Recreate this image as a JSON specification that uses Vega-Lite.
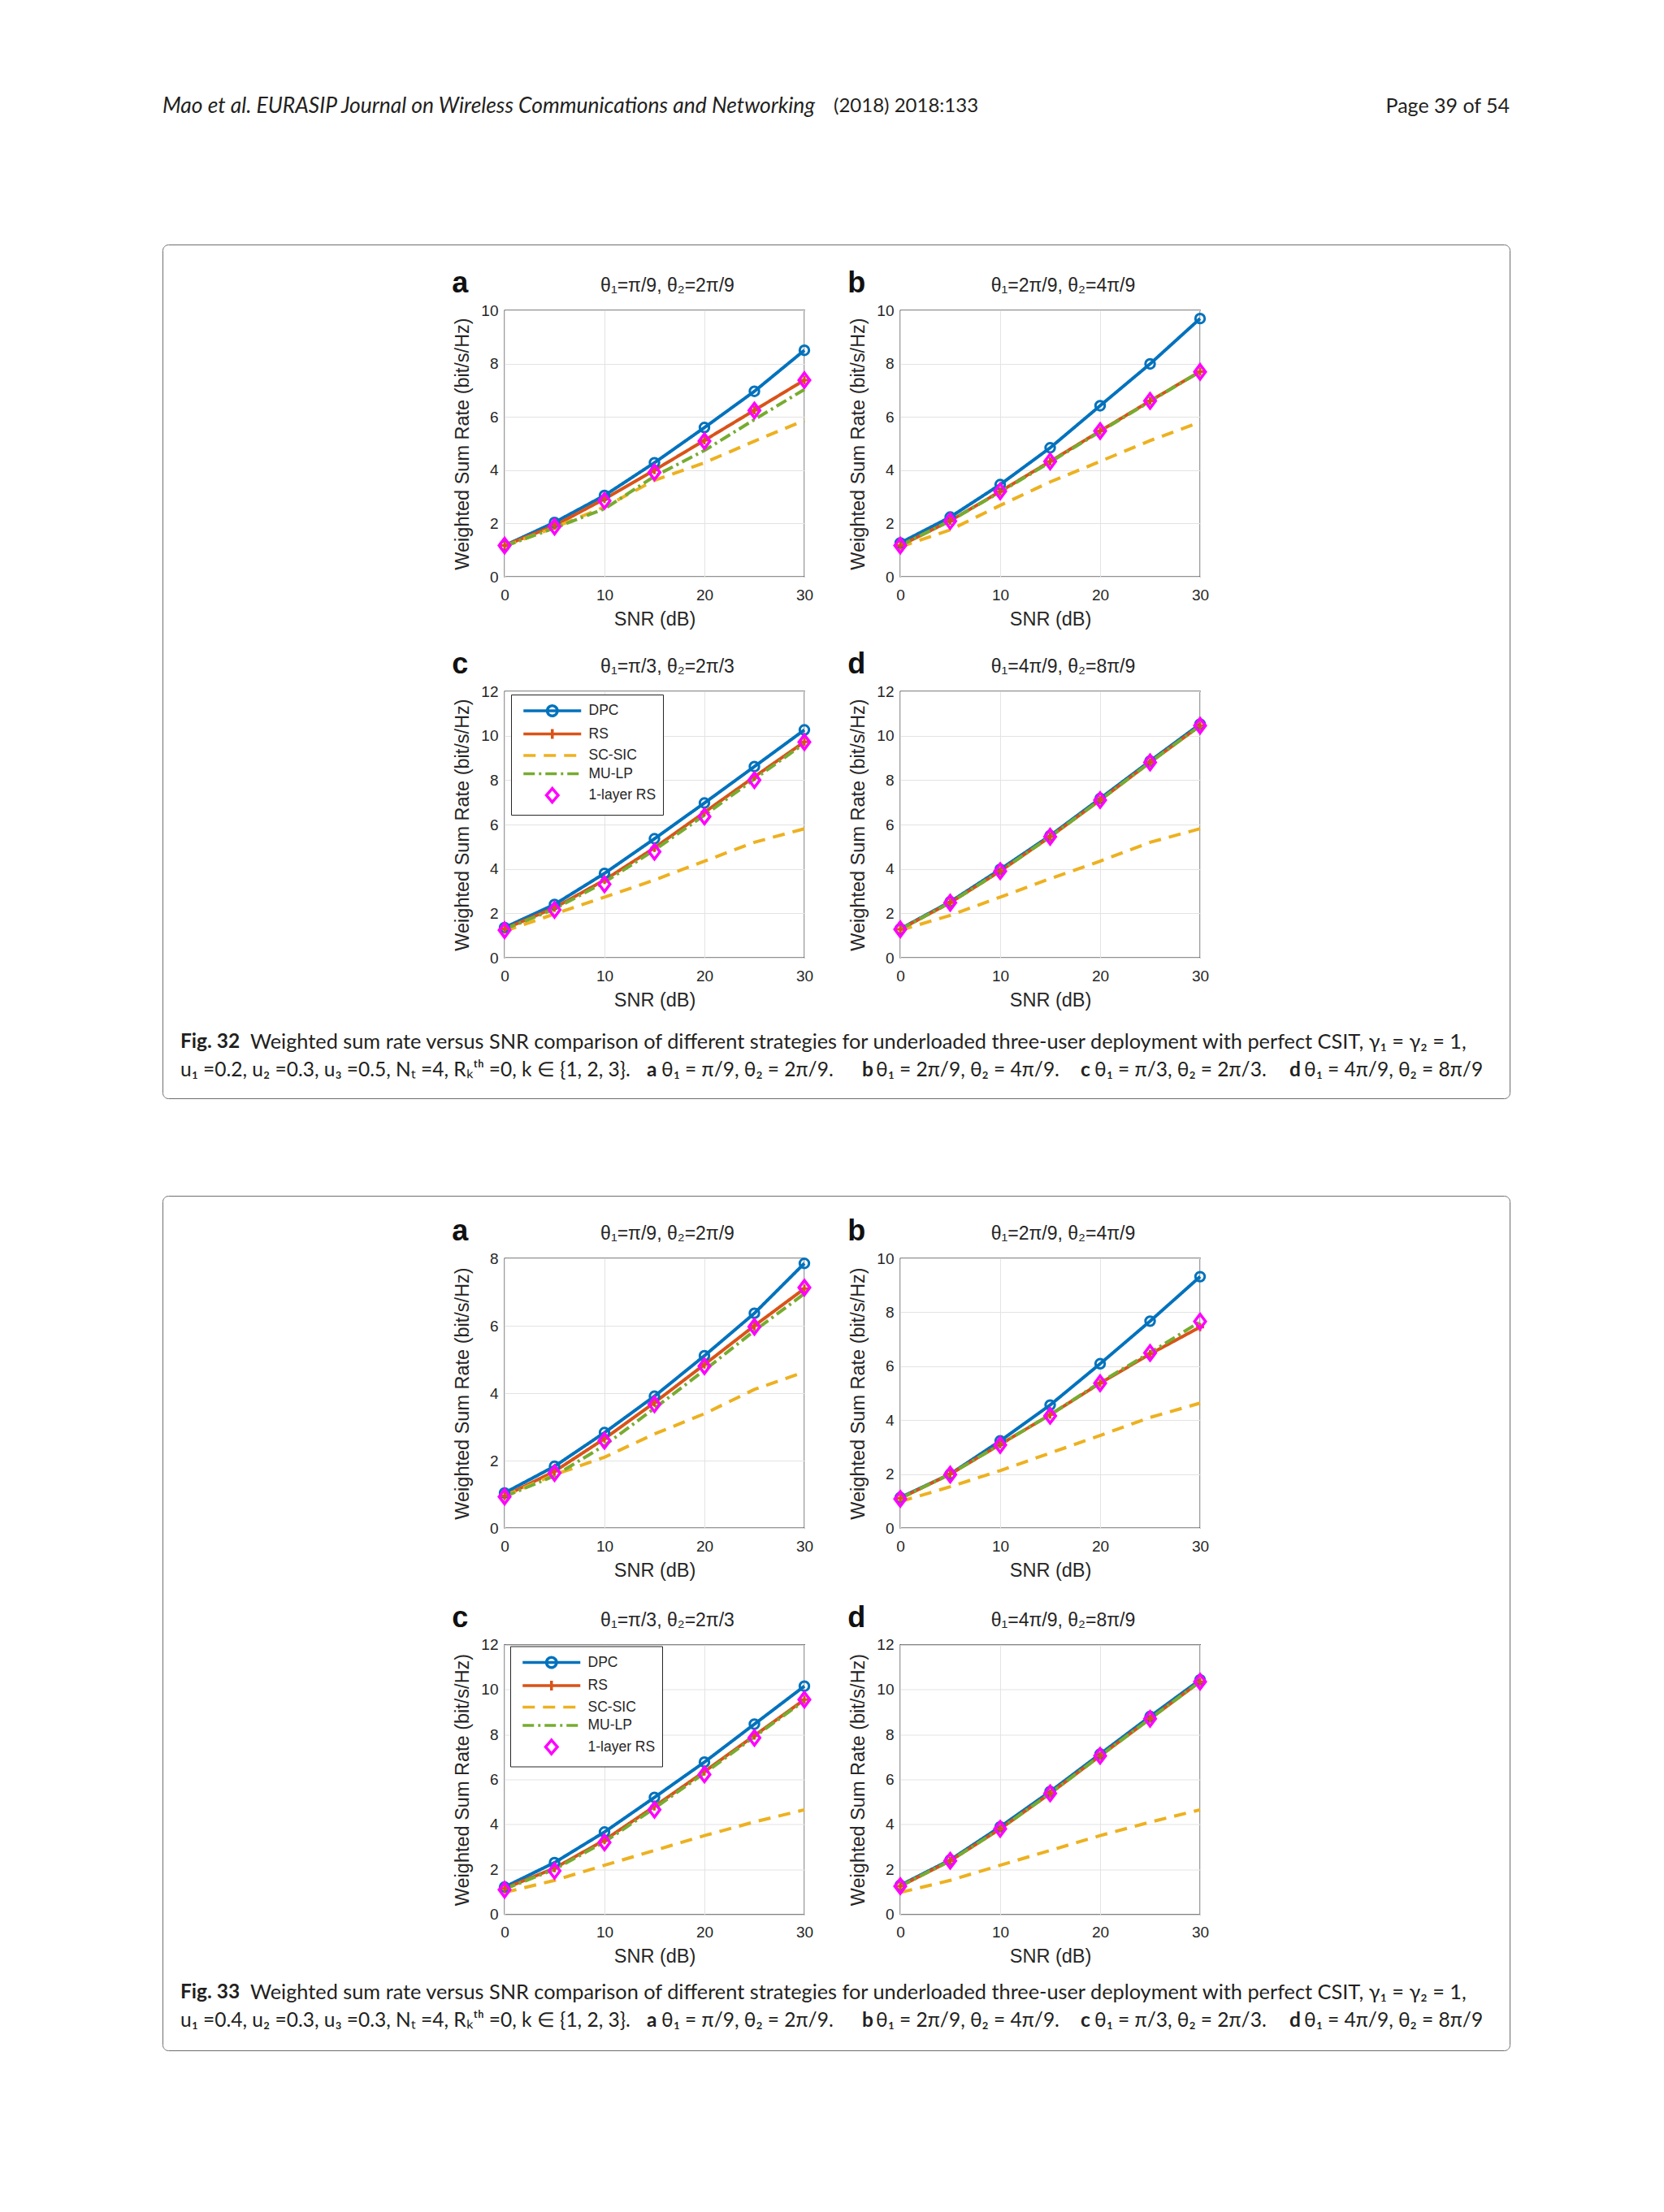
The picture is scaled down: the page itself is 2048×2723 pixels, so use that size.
{
  "$schema": "https://vega.github.io/schema/vega-lite/v6.json",
  "background": "white",
  "padding": {"left": 198, "top": 110, "right": 0, "bottom": 0},
  "config": {
    "font": "Liberation Sans",
    "view": {"stroke": "#262626", "strokeWidth": 1.3},
    "axis": {
      "labelFont": "Liberation Sans", "labelFontSize": 19, "labelColor": "#262626", "labelAngle": 0,
      "titleFont": "Liberation Sans", "titleFontSize": 23.5, "titleFontWeight": "normal", "titleColor": "#262626",
      "domain": false, "ticks": false, "gridColor": "#e3e3e3", "gridWidth": 1, "gridOpacity": 1
    },
    "axisX": {"tickCount": 3, "labelPadding": 13, "titlePadding": 8, "labelFlush": false, "labelAngle": 0},
    "axisY": {"tickCount": 5, "labelPadding": 8, "titlePadding": 10, "labelAngle": 0, "labelAlign": "right", "labelBaseline": "middle", "minExtent": 30, "maxExtent": 30},
    "title": {"font": "Liberation Sans", "color": "#262626"}
  },
  "datasets": {
    "header": [
      {"seg": 1, "label": "Mao et al. EURASIP Journal on Wireless Communications and Networking"},
      {"seg": 2, "label": "(2018) 2018:133"},
      {"seg": 3, "label": "Page 39 of 54"}
    ],
    "captions": [
      {"figure": 32, "line": 1, "seg": 1, "kind": "figure", "label": "Fig. 32"},
      {"figure": 32, "line": 1, "seg": 2, "kind": "text", "label": "Weighted sum rate versus SNR comparison of different strategies for underloaded three-user deployment with perfect CSIT, γ₁ = γ₂ = 1,"},
      {"figure": 32, "line": 2, "seg": 1, "kind": "text", "label": "u₁ =0.2, u₂ =0.3, u₃ =0.5, Nₜ =4, Rₖᵗʰ =0, k ∈ {1, 2, 3}."},
      {"figure": 32, "line": 2, "seg": 3, "kind": "panel", "label": "a"},
      {"figure": 32, "line": 2, "seg": 4, "kind": "text", "label": "θ₁ = π/9, θ₂ = 2π/9."},
      {"figure": 32, "line": 2, "seg": 5, "kind": "panel", "label": "b"},
      {"figure": 32, "line": 2, "seg": 6, "kind": "text", "label": "θ₁ = 2π/9, θ₂ = 4π/9."},
      {"figure": 32, "line": 2, "seg": 7, "kind": "panel", "label": "c"},
      {"figure": 32, "line": 2, "seg": 8, "kind": "text", "label": "θ₁ = π/3, θ₂ = 2π/3."},
      {"figure": 32, "line": 2, "seg": 9, "kind": "panel", "label": "d"},
      {"figure": 32, "line": 2, "seg": 10, "kind": "text", "label": "θ₁ = 4π/9, θ₂ = 8π/9"},
      {"figure": 33, "line": 1, "seg": 1, "kind": "figure", "label": "Fig. 33"},
      {"figure": 33, "line": 1, "seg": 2, "kind": "text", "label": "Weighted sum rate versus SNR comparison of different strategies for underloaded three-user deployment with perfect CSIT, γ₁ = γ₂ = 1,"},
      {"figure": 33, "line": 2, "seg": 1, "kind": "text", "label": "u₁ =0.4, u₂ =0.3, u₃ =0.3, Nₜ =4, Rₖᵗʰ =0, k ∈ {1, 2, 3}."},
      {"figure": 33, "line": 2, "seg": 3, "kind": "panel", "label": "a"},
      {"figure": 33, "line": 2, "seg": 4, "kind": "text", "label": "θ₁ = π/9, θ₂ = 2π/9."},
      {"figure": 33, "line": 2, "seg": 5, "kind": "panel", "label": "b"},
      {"figure": 33, "line": 2, "seg": 6, "kind": "text", "label": "θ₁ = 2π/9, θ₂ = 4π/9."},
      {"figure": 33, "line": 2, "seg": 7, "kind": "panel", "label": "c"},
      {"figure": 33, "line": 2, "seg": 8, "kind": "text", "label": "θ₁ = π/3, θ₂ = 2π/3."},
      {"figure": 33, "line": 2, "seg": 9, "kind": "panel", "label": "d"},
      {"figure": 33, "line": 2, "seg": 10, "kind": "text", "label": "θ₁ = 4π/9, θ₂ = 8π/9"}
    ],
    "rates": [
      {"figure": 32, "panel": "a", "series": "DPC", "snr": 0, "rate": 1.17},
      {"figure": 32, "panel": "a", "series": "DPC", "snr": 5, "rate": 2.04},
      {"figure": 32, "panel": "a", "series": "DPC", "snr": 10, "rate": 3.05},
      {"figure": 32, "panel": "a", "series": "DPC", "snr": 15, "rate": 4.28},
      {"figure": 32, "panel": "a", "series": "DPC", "snr": 20, "rate": 5.60},
      {"figure": 32, "panel": "a", "series": "DPC", "snr": 25, "rate": 6.96},
      {"figure": 32, "panel": "a", "series": "DPC", "snr": 30, "rate": 8.50},
      {"figure": 32, "panel": "a", "series": "RS", "snr": 0, "rate": 1.17},
      {"figure": 32, "panel": "a", "series": "RS", "snr": 5, "rate": 1.92},
      {"figure": 32, "panel": "a", "series": "RS", "snr": 10, "rate": 2.92},
      {"figure": 32, "panel": "a", "series": "RS", "snr": 15, "rate": 4.00},
      {"figure": 32, "panel": "a", "series": "RS", "snr": 20, "rate": 5.12},
      {"figure": 32, "panel": "a", "series": "RS", "snr": 25, "rate": 6.25},
      {"figure": 32, "panel": "a", "series": "RS", "snr": 30, "rate": 7.38},
      {"figure": 32, "panel": "a", "series": "SC-SIC", "snr": 0, "rate": 1.15},
      {"figure": 32, "panel": "a", "series": "SC-SIC", "snr": 5, "rate": 1.85},
      {"figure": 32, "panel": "a", "series": "SC-SIC", "snr": 10, "rate": 2.62},
      {"figure": 32, "panel": "a", "series": "SC-SIC", "snr": 15, "rate": 3.62},
      {"figure": 32, "panel": "a", "series": "SC-SIC", "snr": 20, "rate": 4.28},
      {"figure": 32, "panel": "a", "series": "SC-SIC", "snr": 25, "rate": 5.09},
      {"figure": 32, "panel": "a", "series": "SC-SIC", "snr": 30, "rate": 5.87},
      {"figure": 32, "panel": "a", "series": "MU-LP", "snr": 0, "rate": 1.15},
      {"figure": 32, "panel": "a", "series": "MU-LP", "snr": 5, "rate": 1.83},
      {"figure": 32, "panel": "a", "series": "MU-LP", "snr": 10, "rate": 2.55},
      {"figure": 32, "panel": "a", "series": "MU-LP", "snr": 15, "rate": 3.77},
      {"figure": 32, "panel": "a", "series": "MU-LP", "snr": 20, "rate": 4.74},
      {"figure": 32, "panel": "a", "series": "MU-LP", "snr": 25, "rate": 5.90},
      {"figure": 32, "panel": "a", "series": "MU-LP", "snr": 30, "rate": 7.03},
      {"figure": 32, "panel": "a", "series": "1-layer RS", "snr": 0, "rate": 1.17},
      {"figure": 32, "panel": "a", "series": "1-layer RS", "snr": 5, "rate": 1.88},
      {"figure": 32, "panel": "a", "series": "1-layer RS", "snr": 10, "rate": 2.85},
      {"figure": 32, "panel": "a", "series": "1-layer RS", "snr": 15, "rate": 3.92},
      {"figure": 32, "panel": "a", "series": "1-layer RS", "snr": 20, "rate": 5.09},
      {"figure": 32, "panel": "a", "series": "1-layer RS", "snr": 25, "rate": 6.24},
      {"figure": 32, "panel": "a", "series": "1-layer RS", "snr": 30, "rate": 7.38},
      {"figure": 32, "panel": "b", "series": "DPC", "snr": 0, "rate": 1.27},
      {"figure": 32, "panel": "b", "series": "DPC", "snr": 5, "rate": 2.24},
      {"figure": 32, "panel": "b", "series": "DPC", "snr": 10, "rate": 3.46},
      {"figure": 32, "panel": "b", "series": "DPC", "snr": 15, "rate": 4.84},
      {"figure": 32, "panel": "b", "series": "DPC", "snr": 20, "rate": 6.42},
      {"figure": 32, "panel": "b", "series": "DPC", "snr": 25, "rate": 7.99},
      {"figure": 32, "panel": "b", "series": "DPC", "snr": 30, "rate": 9.69},
      {"figure": 32, "panel": "b", "series": "RS", "snr": 0, "rate": 1.17},
      {"figure": 32, "panel": "b", "series": "RS", "snr": 5, "rate": 2.10},
      {"figure": 32, "panel": "b", "series": "RS", "snr": 10, "rate": 3.20},
      {"figure": 32, "panel": "b", "series": "RS", "snr": 15, "rate": 4.33},
      {"figure": 32, "panel": "b", "series": "RS", "snr": 20, "rate": 5.47},
      {"figure": 32, "panel": "b", "series": "RS", "snr": 25, "rate": 6.60},
      {"figure": 32, "panel": "b", "series": "RS", "snr": 30, "rate": 7.70},
      {"figure": 32, "panel": "b", "series": "SC-SIC", "snr": 0, "rate": 1.12},
      {"figure": 32, "panel": "b", "series": "SC-SIC", "snr": 5, "rate": 1.76},
      {"figure": 32, "panel": "b", "series": "SC-SIC", "snr": 10, "rate": 2.68},
      {"figure": 32, "panel": "b", "series": "SC-SIC", "snr": 15, "rate": 3.56},
      {"figure": 32, "panel": "b", "series": "SC-SIC", "snr": 20, "rate": 4.33},
      {"figure": 32, "panel": "b", "series": "SC-SIC", "snr": 25, "rate": 5.11},
      {"figure": 32, "panel": "b", "series": "SC-SIC", "snr": 30, "rate": 5.80},
      {"figure": 32, "panel": "b", "series": "MU-LP", "snr": 0, "rate": 1.17},
      {"figure": 32, "panel": "b", "series": "MU-LP", "snr": 5, "rate": 2.10},
      {"figure": 32, "panel": "b", "series": "MU-LP", "snr": 10, "rate": 3.18},
      {"figure": 32, "panel": "b", "series": "MU-LP", "snr": 15, "rate": 4.30},
      {"figure": 32, "panel": "b", "series": "MU-LP", "snr": 20, "rate": 5.45},
      {"figure": 32, "panel": "b", "series": "MU-LP", "snr": 25, "rate": 6.58},
      {"figure": 32, "panel": "b", "series": "MU-LP", "snr": 30, "rate": 7.70},
      {"figure": 32, "panel": "b", "series": "1-layer RS", "snr": 0, "rate": 1.17},
      {"figure": 32, "panel": "b", "series": "1-layer RS", "snr": 5, "rate": 2.09},
      {"figure": 32, "panel": "b", "series": "1-layer RS", "snr": 10, "rate": 3.21},
      {"figure": 32, "panel": "b", "series": "1-layer RS", "snr": 15, "rate": 4.33},
      {"figure": 32, "panel": "b", "series": "1-layer RS", "snr": 20, "rate": 5.47},
      {"figure": 32, "panel": "b", "series": "1-layer RS", "snr": 25, "rate": 6.60},
      {"figure": 32, "panel": "b", "series": "1-layer RS", "snr": 30, "rate": 7.69},
      {"figure": 32, "panel": "c", "series": "DPC", "snr": 0, "rate": 1.36},
      {"figure": 32, "panel": "c", "series": "DPC", "snr": 5, "rate": 2.40},
      {"figure": 32, "panel": "c", "series": "DPC", "snr": 10, "rate": 3.80},
      {"figure": 32, "panel": "c", "series": "DPC", "snr": 15, "rate": 5.36},
      {"figure": 32, "panel": "c", "series": "DPC", "snr": 20, "rate": 6.97},
      {"figure": 32, "panel": "c", "series": "DPC", "snr": 25, "rate": 8.61},
      {"figure": 32, "panel": "c", "series": "DPC", "snr": 30, "rate": 10.26},
      {"figure": 32, "panel": "c", "series": "RS", "snr": 0, "rate": 1.30},
      {"figure": 32, "panel": "c", "series": "RS", "snr": 5, "rate": 2.25},
      {"figure": 32, "panel": "c", "series": "RS", "snr": 10, "rate": 3.50},
      {"figure": 32, "panel": "c", "series": "RS", "snr": 15, "rate": 4.95},
      {"figure": 32, "panel": "c", "series": "RS", "snr": 20, "rate": 6.55},
      {"figure": 32, "panel": "c", "series": "RS", "snr": 25, "rate": 8.15},
      {"figure": 32, "panel": "c", "series": "RS", "snr": 30, "rate": 9.72},
      {"figure": 32, "panel": "c", "series": "SC-SIC", "snr": 0, "rate": 1.20},
      {"figure": 32, "panel": "c", "series": "SC-SIC", "snr": 5, "rate": 1.97},
      {"figure": 32, "panel": "c", "series": "SC-SIC", "snr": 10, "rate": 2.73},
      {"figure": 32, "panel": "c", "series": "SC-SIC", "snr": 15, "rate": 3.50},
      {"figure": 32, "panel": "c", "series": "SC-SIC", "snr": 20, "rate": 4.35},
      {"figure": 32, "panel": "c", "series": "SC-SIC", "snr": 25, "rate": 5.20},
      {"figure": 32, "panel": "c", "series": "SC-SIC", "snr": 30, "rate": 5.81},
      {"figure": 32, "panel": "c", "series": "MU-LP", "snr": 0, "rate": 1.28},
      {"figure": 32, "panel": "c", "series": "MU-LP", "snr": 5, "rate": 2.20},
      {"figure": 32, "panel": "c", "series": "MU-LP", "snr": 10, "rate": 3.40},
      {"figure": 32, "panel": "c", "series": "MU-LP", "snr": 15, "rate": 4.85},
      {"figure": 32, "panel": "c", "series": "MU-LP", "snr": 20, "rate": 6.42},
      {"figure": 32, "panel": "c", "series": "MU-LP", "snr": 25, "rate": 8.05},
      {"figure": 32, "panel": "c", "series": "MU-LP", "snr": 30, "rate": 9.65},
      {"figure": 32, "panel": "c", "series": "1-layer RS", "snr": 0, "rate": 1.24},
      {"figure": 32, "panel": "c", "series": "1-layer RS", "snr": 5, "rate": 2.16},
      {"figure": 32, "panel": "c", "series": "1-layer RS", "snr": 10, "rate": 3.31},
      {"figure": 32, "panel": "c", "series": "1-layer RS", "snr": 15, "rate": 4.77},
      {"figure": 32, "panel": "c", "series": "1-layer RS", "snr": 20, "rate": 6.36},
      {"figure": 32, "panel": "c", "series": "1-layer RS", "snr": 25, "rate": 8.00},
      {"figure": 32, "panel": "c", "series": "1-layer RS", "snr": 30, "rate": 9.71},
      {"figure": 32, "panel": "d", "series": "DPC", "snr": 0, "rate": 1.30},
      {"figure": 32, "panel": "d", "series": "DPC", "snr": 5, "rate": 2.52},
      {"figure": 32, "panel": "d", "series": "DPC", "snr": 10, "rate": 3.98},
      {"figure": 32, "panel": "d", "series": "DPC", "snr": 15, "rate": 5.50},
      {"figure": 32, "panel": "d", "series": "DPC", "snr": 20, "rate": 7.17},
      {"figure": 32, "panel": "d", "series": "DPC", "snr": 25, "rate": 8.86},
      {"figure": 32, "panel": "d", "series": "DPC", "snr": 30, "rate": 10.52},
      {"figure": 32, "panel": "d", "series": "RS", "snr": 0, "rate": 1.28},
      {"figure": 32, "panel": "d", "series": "RS", "snr": 5, "rate": 2.48},
      {"figure": 32, "panel": "d", "series": "RS", "snr": 10, "rate": 3.90},
      {"figure": 32, "panel": "d", "series": "RS", "snr": 15, "rate": 5.45},
      {"figure": 32, "panel": "d", "series": "RS", "snr": 20, "rate": 7.10},
      {"figure": 32, "panel": "d", "series": "RS", "snr": 25, "rate": 8.80},
      {"figure": 32, "panel": "d", "series": "RS", "snr": 30, "rate": 10.45},
      {"figure": 32, "panel": "d", "series": "SC-SIC", "snr": 0, "rate": 1.24},
      {"figure": 32, "panel": "d", "series": "SC-SIC", "snr": 5, "rate": 1.91},
      {"figure": 32, "panel": "d", "series": "SC-SIC", "snr": 10, "rate": 2.73},
      {"figure": 32, "panel": "d", "series": "SC-SIC", "snr": 15, "rate": 3.56},
      {"figure": 32, "panel": "d", "series": "SC-SIC", "snr": 20, "rate": 4.35},
      {"figure": 32, "panel": "d", "series": "SC-SIC", "snr": 25, "rate": 5.20},
      {"figure": 32, "panel": "d", "series": "SC-SIC", "snr": 30, "rate": 5.81},
      {"figure": 32, "panel": "d", "series": "MU-LP", "snr": 0, "rate": 1.28},
      {"figure": 32, "panel": "d", "series": "MU-LP", "snr": 5, "rate": 2.48},
      {"figure": 32, "panel": "d", "series": "MU-LP", "snr": 10, "rate": 3.90},
      {"figure": 32, "panel": "d", "series": "MU-LP", "snr": 15, "rate": 5.45},
      {"figure": 32, "panel": "d", "series": "MU-LP", "snr": 20, "rate": 7.10},
      {"figure": 32, "panel": "d", "series": "MU-LP", "snr": 25, "rate": 8.80},
      {"figure": 32, "panel": "d", "series": "MU-LP", "snr": 30, "rate": 10.45},
      {"figure": 32, "panel": "d", "series": "1-layer RS", "snr": 0, "rate": 1.28},
      {"figure": 32, "panel": "d", "series": "1-layer RS", "snr": 5, "rate": 2.48},
      {"figure": 32, "panel": "d", "series": "1-layer RS", "snr": 10, "rate": 3.90},
      {"figure": 32, "panel": "d", "series": "1-layer RS", "snr": 15, "rate": 5.45},
      {"figure": 32, "panel": "d", "series": "1-layer RS", "snr": 20, "rate": 7.10},
      {"figure": 32, "panel": "d", "series": "1-layer RS", "snr": 25, "rate": 8.80},
      {"figure": 32, "panel": "d", "series": "1-layer RS", "snr": 30, "rate": 10.45},
      {"figure": 33, "panel": "a", "series": "DPC", "snr": 0, "rate": 1.04},
      {"figure": 33, "panel": "a", "series": "DPC", "snr": 5, "rate": 1.83},
      {"figure": 33, "panel": "a", "series": "DPC", "snr": 10, "rate": 2.83},
      {"figure": 33, "panel": "a", "series": "DPC", "snr": 15, "rate": 3.91},
      {"figure": 33, "panel": "a", "series": "DPC", "snr": 20, "rate": 5.11},
      {"figure": 33, "panel": "a", "series": "DPC", "snr": 25, "rate": 6.37},
      {"figure": 33, "panel": "a", "series": "DPC", "snr": 30, "rate": 7.85},
      {"figure": 33, "panel": "a", "series": "RS", "snr": 0, "rate": 0.95},
      {"figure": 33, "panel": "a", "series": "RS", "snr": 5, "rate": 1.68},
      {"figure": 33, "panel": "a", "series": "RS", "snr": 10, "rate": 2.65},
      {"figure": 33, "panel": "a", "series": "RS", "snr": 15, "rate": 3.72},
      {"figure": 33, "panel": "a", "series": "RS", "snr": 20, "rate": 4.85},
      {"figure": 33, "panel": "a", "series": "RS", "snr": 25, "rate": 6.00},
      {"figure": 33, "panel": "a", "series": "RS", "snr": 30, "rate": 7.10},
      {"figure": 33, "panel": "a", "series": "SC-SIC", "snr": 0, "rate": 0.95},
      {"figure": 33, "panel": "a", "series": "SC-SIC", "snr": 5, "rate": 1.58},
      {"figure": 33, "panel": "a", "series": "SC-SIC", "snr": 10, "rate": 2.10},
      {"figure": 33, "panel": "a", "series": "SC-SIC", "snr": 15, "rate": 2.79},
      {"figure": 33, "panel": "a", "series": "SC-SIC", "snr": 20, "rate": 3.39},
      {"figure": 33, "panel": "a", "series": "SC-SIC", "snr": 25, "rate": 4.11},
      {"figure": 33, "panel": "a", "series": "SC-SIC", "snr": 30, "rate": 4.63},
      {"figure": 33, "panel": "a", "series": "MU-LP", "snr": 0, "rate": 0.93},
      {"figure": 33, "panel": "a", "series": "MU-LP", "snr": 5, "rate": 1.55},
      {"figure": 33, "panel": "a", "series": "MU-LP", "snr": 10, "rate": 2.45},
      {"figure": 33, "panel": "a", "series": "MU-LP", "snr": 15, "rate": 3.55},
      {"figure": 33, "panel": "a", "series": "MU-LP", "snr": 20, "rate": 4.68},
      {"figure": 33, "panel": "a", "series": "MU-LP", "snr": 25, "rate": 5.85},
      {"figure": 33, "panel": "a", "series": "MU-LP", "snr": 30, "rate": 6.95},
      {"figure": 33, "panel": "a", "series": "1-layer RS", "snr": 0, "rate": 0.93},
      {"figure": 33, "panel": "a", "series": "1-layer RS", "snr": 5, "rate": 1.63},
      {"figure": 33, "panel": "a", "series": "1-layer RS", "snr": 10, "rate": 2.59},
      {"figure": 33, "panel": "a", "series": "1-layer RS", "snr": 15, "rate": 3.67},
      {"figure": 33, "panel": "a", "series": "1-layer RS", "snr": 20, "rate": 4.80},
      {"figure": 33, "panel": "a", "series": "1-layer RS", "snr": 25, "rate": 5.97},
      {"figure": 33, "panel": "a", "series": "1-layer RS", "snr": 30, "rate": 7.13},
      {"figure": 33, "panel": "b", "series": "DPC", "snr": 0, "rate": 1.13},
      {"figure": 33, "panel": "b", "series": "DPC", "snr": 5, "rate": 2.00},
      {"figure": 33, "panel": "b", "series": "DPC", "snr": 10, "rate": 3.23},
      {"figure": 33, "panel": "b", "series": "DPC", "snr": 15, "rate": 4.56},
      {"figure": 33, "panel": "b", "series": "DPC", "snr": 20, "rate": 6.09},
      {"figure": 33, "panel": "b", "series": "DPC", "snr": 25, "rate": 7.67},
      {"figure": 33, "panel": "b", "series": "DPC", "snr": 30, "rate": 9.32},
      {"figure": 33, "panel": "b", "series": "RS", "snr": 0, "rate": 1.10},
      {"figure": 33, "panel": "b", "series": "RS", "snr": 5, "rate": 2.00},
      {"figure": 33, "panel": "b", "series": "RS", "snr": 10, "rate": 3.10},
      {"figure": 33, "panel": "b", "series": "RS", "snr": 15, "rate": 4.20},
      {"figure": 33, "panel": "b", "series": "RS", "snr": 20, "rate": 5.37},
      {"figure": 33, "panel": "b", "series": "RS", "snr": 25, "rate": 6.45},
      {"figure": 33, "panel": "b", "series": "RS", "snr": 30, "rate": 7.45},
      {"figure": 33, "panel": "b", "series": "SC-SIC", "snr": 0, "rate": 0.98},
      {"figure": 33, "panel": "b", "series": "SC-SIC", "snr": 5, "rate": 1.53},
      {"figure": 33, "panel": "b", "series": "SC-SIC", "snr": 10, "rate": 2.13},
      {"figure": 33, "panel": "b", "series": "SC-SIC", "snr": 15, "rate": 2.78},
      {"figure": 33, "panel": "b", "series": "SC-SIC", "snr": 20, "rate": 3.43},
      {"figure": 33, "panel": "b", "series": "SC-SIC", "snr": 25, "rate": 4.10},
      {"figure": 33, "panel": "b", "series": "SC-SIC", "snr": 30, "rate": 4.63},
      {"figure": 33, "panel": "b", "series": "MU-LP", "snr": 0, "rate": 1.10},
      {"figure": 33, "panel": "b", "series": "MU-LP", "snr": 5, "rate": 2.00},
      {"figure": 33, "panel": "b", "series": "MU-LP", "snr": 10, "rate": 3.10},
      {"figure": 33, "panel": "b", "series": "MU-LP", "snr": 15, "rate": 4.20},
      {"figure": 33, "panel": "b", "series": "MU-LP", "snr": 20, "rate": 5.40},
      {"figure": 33, "panel": "b", "series": "MU-LP", "snr": 25, "rate": 6.50},
      {"figure": 33, "panel": "b", "series": "MU-LP", "snr": 30, "rate": 7.65},
      {"figure": 33, "panel": "b", "series": "1-layer RS", "snr": 0, "rate": 1.08},
      {"figure": 33, "panel": "b", "series": "1-layer RS", "snr": 5, "rate": 1.98},
      {"figure": 33, "panel": "b", "series": "1-layer RS", "snr": 10, "rate": 3.08},
      {"figure": 33, "panel": "b", "series": "1-layer RS", "snr": 15, "rate": 4.16},
      {"figure": 33, "panel": "b", "series": "1-layer RS", "snr": 20, "rate": 5.37},
      {"figure": 33, "panel": "b", "series": "1-layer RS", "snr": 25, "rate": 6.49},
      {"figure": 33, "panel": "b", "series": "1-layer RS", "snr": 30, "rate": 7.66},
      {"figure": 33, "panel": "c", "series": "DPC", "snr": 0, "rate": 1.21},
      {"figure": 33, "panel": "c", "series": "DPC", "snr": 5, "rate": 2.30},
      {"figure": 33, "panel": "c", "series": "DPC", "snr": 10, "rate": 3.66},
      {"figure": 33, "panel": "c", "series": "DPC", "snr": 15, "rate": 5.20},
      {"figure": 33, "panel": "c", "series": "DPC", "snr": 20, "rate": 6.77},
      {"figure": 33, "panel": "c", "series": "DPC", "snr": 25, "rate": 8.46},
      {"figure": 33, "panel": "c", "series": "DPC", "snr": 30, "rate": 10.15},
      {"figure": 33, "panel": "c", "series": "RS", "snr": 0, "rate": 1.15},
      {"figure": 33, "panel": "c", "series": "RS", "snr": 5, "rate": 2.05},
      {"figure": 33, "panel": "c", "series": "RS", "snr": 10, "rate": 3.30},
      {"figure": 33, "panel": "c", "series": "RS", "snr": 15, "rate": 4.80},
      {"figure": 33, "panel": "c", "series": "RS", "snr": 20, "rate": 6.35},
      {"figure": 33, "panel": "c", "series": "RS", "snr": 25, "rate": 7.95},
      {"figure": 33, "panel": "c", "series": "RS", "snr": 30, "rate": 9.55},
      {"figure": 33, "panel": "c", "series": "SC-SIC", "snr": 0, "rate": 0.97},
      {"figure": 33, "panel": "c", "series": "SC-SIC", "snr": 5, "rate": 1.51},
      {"figure": 33, "panel": "c", "series": "SC-SIC", "snr": 10, "rate": 2.18},
      {"figure": 33, "panel": "c", "series": "SC-SIC", "snr": 15, "rate": 2.84},
      {"figure": 33, "panel": "c", "series": "SC-SIC", "snr": 20, "rate": 3.50},
      {"figure": 33, "panel": "c", "series": "SC-SIC", "snr": 25, "rate": 4.11},
      {"figure": 33, "panel": "c", "series": "SC-SIC", "snr": 30, "rate": 4.65},
      {"figure": 33, "panel": "c", "series": "MU-LP", "snr": 0, "rate": 1.12},
      {"figure": 33, "panel": "c", "series": "MU-LP", "snr": 5, "rate": 2.00},
      {"figure": 33, "panel": "c", "series": "MU-LP", "snr": 10, "rate": 3.22},
      {"figure": 33, "panel": "c", "series": "MU-LP", "snr": 15, "rate": 4.72},
      {"figure": 33, "panel": "c", "series": "MU-LP", "snr": 20, "rate": 6.28},
      {"figure": 33, "panel": "c", "series": "MU-LP", "snr": 25, "rate": 7.90},
      {"figure": 33, "panel": "c", "series": "MU-LP", "snr": 30, "rate": 9.50},
      {"figure": 33, "panel": "c", "series": "1-layer RS", "snr": 0, "rate": 1.09},
      {"figure": 33, "panel": "c", "series": "1-layer RS", "snr": 5, "rate": 1.93},
      {"figure": 33, "panel": "c", "series": "1-layer RS", "snr": 10, "rate": 3.20},
      {"figure": 33, "panel": "c", "series": "1-layer RS", "snr": 15, "rate": 4.65},
      {"figure": 33, "panel": "c", "series": "1-layer RS", "snr": 20, "rate": 6.22},
      {"figure": 33, "panel": "c", "series": "1-layer RS", "snr": 25, "rate": 7.85},
      {"figure": 33, "panel": "c", "series": "1-layer RS", "snr": 30, "rate": 9.55},
      {"figure": 33, "panel": "d", "series": "DPC", "snr": 0, "rate": 1.29},
      {"figure": 33, "panel": "d", "series": "DPC", "snr": 5, "rate": 2.42},
      {"figure": 33, "panel": "d", "series": "DPC", "snr": 10, "rate": 3.89},
      {"figure": 33, "panel": "d", "series": "DPC", "snr": 15, "rate": 5.46},
      {"figure": 33, "panel": "d", "series": "DPC", "snr": 20, "rate": 7.13},
      {"figure": 33, "panel": "d", "series": "DPC", "snr": 25, "rate": 8.80},
      {"figure": 33, "panel": "d", "series": "DPC", "snr": 30, "rate": 10.43},
      {"figure": 33, "panel": "d", "series": "RS", "snr": 0, "rate": 1.25},
      {"figure": 33, "panel": "d", "series": "RS", "snr": 5, "rate": 2.38},
      {"figure": 33, "panel": "d", "series": "RS", "snr": 10, "rate": 3.80},
      {"figure": 33, "panel": "d", "series": "RS", "snr": 15, "rate": 5.38},
      {"figure": 33, "panel": "d", "series": "RS", "snr": 20, "rate": 7.05},
      {"figure": 33, "panel": "d", "series": "RS", "snr": 25, "rate": 8.70},
      {"figure": 33, "panel": "d", "series": "RS", "snr": 30, "rate": 10.35},
      {"figure": 33, "panel": "d", "series": "SC-SIC", "snr": 0, "rate": 0.97},
      {"figure": 33, "panel": "d", "series": "SC-SIC", "snr": 5, "rate": 1.51},
      {"figure": 33, "panel": "d", "series": "SC-SIC", "snr": 10, "rate": 2.18},
      {"figure": 33, "panel": "d", "series": "SC-SIC", "snr": 15, "rate": 2.84},
      {"figure": 33, "panel": "d", "series": "SC-SIC", "snr": 20, "rate": 3.50},
      {"figure": 33, "panel": "d", "series": "SC-SIC", "snr": 25, "rate": 4.10},
      {"figure": 33, "panel": "d", "series": "SC-SIC", "snr": 30, "rate": 4.65},
      {"figure": 33, "panel": "d", "series": "MU-LP", "snr": 0, "rate": 1.25},
      {"figure": 33, "panel": "d", "series": "MU-LP", "snr": 5, "rate": 2.38},
      {"figure": 33, "panel": "d", "series": "MU-LP", "snr": 10, "rate": 3.80},
      {"figure": 33, "panel": "d", "series": "MU-LP", "snr": 15, "rate": 5.38},
      {"figure": 33, "panel": "d", "series": "MU-LP", "snr": 20, "rate": 7.05},
      {"figure": 33, "panel": "d", "series": "MU-LP", "snr": 25, "rate": 8.70},
      {"figure": 33, "panel": "d", "series": "MU-LP", "snr": 30, "rate": 10.35},
      {"figure": 33, "panel": "d", "series": "1-layer RS", "snr": 0, "rate": 1.25},
      {"figure": 33, "panel": "d", "series": "1-layer RS", "snr": 5, "rate": 2.38},
      {"figure": 33, "panel": "d", "series": "1-layer RS", "snr": 10, "rate": 3.80},
      {"figure": 33, "panel": "d", "series": "1-layer RS", "snr": 15, "rate": 5.38},
      {"figure": 33, "panel": "d", "series": "1-layer RS", "snr": 20, "rate": 7.05},
      {"figure": 33, "panel": "d", "series": "1-layer RS", "snr": 25, "rate": 8.70},
      {"figure": 33, "panel": "d", "series": "1-layer RS", "snr": 30, "rate": 10.35}
    ]
  },
  "bounds": "flush",
  "spacing": 231,
  "resolve": {"scale": {"color": "independent", "shape": "independent", "strokeDash": "independent", "fill": "independent", "stroke": "independent"}},
  "vconcat": [
    {
      "width": 1658, "height": 40,
      "view": {"stroke": "transparent"},
      "data": {"name": "header"},
      "layer": [
        {"transform": [{"filter": "datum.seg == 1"}], "mark": {"type": "text", "align": "left", "baseline": "middle", "font": "Lato", "fontStyle": "italic", "fontSize": 26.4, "color": "#231f20"},
          "encoding": {"x": {"field": "seg", "type": "quantitative", "scale": {"domain": [1, 2, 3], "range": [0, 826, 1658], "nice": false, "zero": false}, "axis": null}, "text": {"field": "label"}}},
        {"transform": [{"filter": "datum.seg == 2"}], "mark": {"type": "text", "align": "left", "baseline": "middle", "font": "Lato", "fontSize": 24, "color": "#231f20"},
          "encoding": {"x": {"field": "seg", "type": "quantitative", "scale": {"domain": [1, 2, 3], "range": [0, 826, 1658], "nice": false, "zero": false}, "axis": null}, "text": {"field": "label"}}},
        {"transform": [{"filter": "datum.seg == 3"}], "mark": {"type": "text", "align": "right", "baseline": "middle", "font": "Lato", "fontSize": 25, "color": "#231f20"},
          "encoding": {"x": {"field": "seg", "type": "quantitative", "scale": {"domain": [1, 2, 3], "range": [0, 826, 1658], "nice": false, "zero": false}, "axis": null}, "text": {"field": "label"}}},
        {"transform": [{"filter": "datum.seg < 0"}], "mark": {"type": "point", "opacity": 0},
          "encoding": {
            "fill": {"field": "seg", "type": "quantitative", "scale": {"domain": [0, 1], "range": ["transparent", "transparent"]},
              "legend": {"type": "gradient", "direction": "vertical", "orient": "none", "legendX": 0, "legendY": 190, "title": null, "gradientLength": 1051, "gradientThickness": 1658, "gradientStrokeWidth": 0, "gradientStrokeColor": "transparent", "labelOpacity": 0, "labelExpr": "''", "labelOffset": 0, "padding": 0, "strokeColor": "#6e6e6e", "cornerRadius": 7}},
            "stroke": {"field": "seg", "type": "quantitative", "scale": {"domain": [0, 2], "range": ["transparent", "transparent"]},
              "legend": {"type": "gradient", "direction": "vertical", "orient": "none", "legendX": 0, "legendY": 1361, "title": null, "gradientLength": 1052, "gradientThickness": 1658, "gradientStrokeWidth": 0, "gradientStrokeColor": "transparent", "labelOpacity": 0, "labelExpr": "''", "labelOffset": 0, "padding": 0, "strokeColor": "#6e6e6e", "cornerRadius": 7}}
          }}
      ]
    },
    {
      "spacing": 162,
      "resolve": {"scale": {"color": "independent", "shape": "independent", "strokeDash": "independent"}},
      "vconcat": [
        {
          "spacing": 20,
          "resolve": {"scale": {"color": "independent", "shape": "independent", "strokeDash": "independent"}},
          "vconcat": [
            {
              "spacing": 25,
              "resolve": {"scale": {"color": "independent", "shape": "independent", "strokeDash": "independent"}},
              "vconcat": [
                {
                  "spacing": 38,
                  "resolve": {"scale": {"color": "independent", "shape": "independent", "strokeDash": "independent"}},
                  "hconcat": [
                    {"width": 317, "height": 10, "view": {"stroke": "transparent"}, "data": {"values": []}, "mark": "text"},
                    {
                      "title": {"text": "a", "anchor": "start", "frame": "bounds", "fontSize": 36, "fontWeight": "bold", "color": "#111111", "offset": 0, "dy": 28},
                      "resolve": {"scale": {"color": "independent", "shape": "independent", "strokeDash": "independent"}},
                      "vconcat": [{
                        "width": 369, "height": 328,
                        "title": {"text": "θ₁=π/9, θ₂=2π/9", "anchor": "middle", "frame": "group", "fontSize": 23, "fontWeight": "normal", "offset": 9, "dx": 16},
                        "data": {"name": "rates"},
                        "transform": [{"filter": "datum.figure == 32 && datum.panel == 'a'"}],
                        "encoding": {
                          "x": {"field": "snr", "type": "quantitative", "scale": {"domain": [0, 30]}, "title": "SNR (dB)"},
                          "y": {"field": "rate", "type": "quantitative", "scale": {"domain": [0, 10]}, "title": "Weighted Sum Rate (bit/s/Hz)"}
                        },
                        "layer": [
                          {"transform": [{"filter": "datum.series != '1-layer RS'"}], "mark": {"type": "line", "strokeWidth": 4},
                            "encoding": {
                              "color": {"field": "series", "type": "nominal", "scale": {"domain": ["DPC", "RS", "SC-SIC", "MU-LP", "1-layer RS"], "range": ["#0072BD", "#D95319", "#EDB120", "#77AC30", "#FF00FF"]}, "legend": null},
                              "strokeDash": {"field": "series", "type": "nominal", "scale": {"domain": ["DPC", "RS", "SC-SIC", "MU-LP", "1-layer RS"], "range": [[1, 0], [1, 0], [15, 10], [14, 5, 3, 5], [1, 0]]}, "legend": null}
                            }},
                          {"transform": [{"filter": "datum.series == 'DPC'"}], "mark": {"type": "point", "shape": "circle", "size": 130, "strokeWidth": 3, "color": "#0072BD", "filled": false, "opacity": 1}},
                          {"transform": [{"filter": "datum.series == 'RS'"}], "mark": {"type": "point", "shape": "M-1,0H1M0,-1V1", "size": 100, "strokeWidth": 3, "color": "#D95319", "filled": false, "opacity": 1}},
                          {"transform": [{"filter": "datum.series == '1-layer RS'"}], "mark": {"type": "point", "shape": "M0,-1L0.75,0L0,1L-0.75,0Z", "size": 324, "strokeWidth": 3.5, "color": "#FF00FF", "filled": false, "opacity": 1}}
                        ]
                      }]
                    },
                    {
                      "title": {"text": "b", "anchor": "start", "frame": "bounds", "fontSize": 36, "fontWeight": "bold", "color": "#111111", "offset": 0, "dy": 28},
                      "resolve": {"scale": {"color": "independent", "shape": "independent", "strokeDash": "independent"}},
                      "vconcat": [{
                        "width": 369, "height": 328,
                        "title": {"text": "θ₁=2π/9, θ₂=4π/9", "anchor": "middle", "frame": "group", "fontSize": 23, "fontWeight": "normal", "offset": 9, "dx": 16},
                        "data": {"name": "rates"},
                        "transform": [{"filter": "datum.figure == 32 && datum.panel == 'b'"}],
                        "encoding": {
                          "x": {"field": "snr", "type": "quantitative", "scale": {"domain": [0, 30]}, "title": "SNR (dB)"},
                          "y": {"field": "rate", "type": "quantitative", "scale": {"domain": [0, 10]}, "title": "Weighted Sum Rate (bit/s/Hz)"}
                        },
                        "layer": [
                          {"transform": [{"filter": "datum.series != '1-layer RS'"}], "mark": {"type": "line", "strokeWidth": 4},
                            "encoding": {
                              "color": {"field": "series", "type": "nominal", "scale": {"domain": ["DPC", "RS", "SC-SIC", "MU-LP", "1-layer RS"], "range": ["#0072BD", "#D95319", "#EDB120", "#77AC30", "#FF00FF"]}, "legend": null},
                              "strokeDash": {"field": "series", "type": "nominal", "scale": {"domain": ["DPC", "RS", "SC-SIC", "MU-LP", "1-layer RS"], "range": [[1, 0], [1, 0], [15, 10], [14, 5, 3, 5], [1, 0]]}, "legend": null}
                            }},
                          {"transform": [{"filter": "datum.series == 'DPC'"}], "mark": {"type": "point", "shape": "circle", "size": 130, "strokeWidth": 3, "color": "#0072BD", "filled": false, "opacity": 1}},
                          {"transform": [{"filter": "datum.series == 'RS'"}], "mark": {"type": "point", "shape": "M-1,0H1M0,-1V1", "size": 100, "strokeWidth": 3, "color": "#D95319", "filled": false, "opacity": 1}},
                          {"transform": [{"filter": "datum.series == '1-layer RS'"}], "mark": {"type": "point", "shape": "M0,-1L0.75,0L0,1L-0.75,0Z", "size": 324, "strokeWidth": 3.5, "color": "#FF00FF", "filled": false, "opacity": 1}}
                        ]
                      }]
                    }
                  ]
                },
                {
                  "spacing": 38,
                  "resolve": {"scale": {"color": "independent", "shape": "independent", "strokeDash": "independent"}},
                  "hconcat": [
                    {"width": 317, "height": 10, "view": {"stroke": "transparent"}, "data": {"values": []}, "mark": "text"},
                    {
                      "title": {"text": "c", "anchor": "start", "frame": "bounds", "fontSize": 36, "fontWeight": "bold", "color": "#111111", "offset": 0, "dy": 28},
                      "resolve": {"scale": {"color": "independent", "shape": "independent", "strokeDash": "independent"}},
                      "vconcat": [{
                        "width": 369, "height": 328,
                        "title": {"text": "θ₁=π/3, θ₂=2π/3", "anchor": "middle", "frame": "group", "fontSize": 23, "fontWeight": "normal", "offset": 9, "dx": 16},
                        "data": {"name": "rates"},
                        "transform": [{"filter": "datum.figure == 32 && datum.panel == 'c'"}],
                        "encoding": {
                          "x": {"field": "snr", "type": "quantitative", "scale": {"domain": [0, 30]}, "title": "SNR (dB)"},
                          "y": {"field": "rate", "type": "quantitative", "scale": {"domain": [0, 12]}, "title": "Weighted Sum Rate (bit/s/Hz)"}
                        },
                        "layer": [
                          {"transform": [{"filter": "datum.series != '1-layer RS'"}], "mark": {"type": "line", "strokeWidth": 4},
                            "encoding": {
                              "color": {"field": "series", "type": "nominal", "scale": {"domain": ["DPC", "RS", "SC-SIC", "MU-LP", "1-layer RS"], "range": ["#0072BD", "#D95319", "#EDB120", "#77AC30", "#FF00FF"]},
                                "legend": {"title": null, "orient": "none", "legendX": 8, "legendY": 4, "padding": 8, "strokeColor": "#262626", "fillColor": "white", "symbolSize": 400, "symbolStrokeWidth": 3.5, "symbolOpacity": 1, "symbolFillColor": "transparent", "labelOffset": 63.5, "labelFontSize": 17.5, "labelFont": "Liberation Sans", "labelColor": "#262626", "rowPadding": 1.5}},
                              "strokeDash": {"field": "series", "type": "nominal", "scale": {"domain": ["DPC", "RS", "SC-SIC", "MU-LP", "1-layer RS"], "range": [[1, 0], [1, 0], [15, 10], [14, 5, 3, 5], [1, 0]]},
                                "legend": {"title": null, "orient": "none", "legendX": 8, "legendY": 4, "padding": 8, "strokeColor": "#262626", "fillColor": "white", "symbolSize": 400, "symbolStrokeWidth": 3.5, "symbolOpacity": 1, "symbolFillColor": "transparent", "labelOffset": 63.5, "labelFontSize": 17.5, "labelFont": "Liberation Sans", "labelColor": "#262626", "rowPadding": 1.5}}
                            }},
                          {"transform": [{"filter": "datum.series == 'DPC'"}], "mark": {"type": "point", "shape": "circle", "size": 130, "strokeWidth": 3, "color": "#0072BD", "filled": false, "opacity": 1}},
                          {"transform": [{"filter": "datum.series == 'RS'"}], "mark": {"type": "point", "shape": "M-1,0H1M0,-1V1", "size": 100, "strokeWidth": 3, "color": "#D95319", "filled": false, "opacity": 1}},
                          {"transform": [{"filter": "datum.series == '1-layer RS'"}], "mark": {"type": "point", "shape": "M0,-1L0.75,0L0,1L-0.75,0Z", "size": 324, "strokeWidth": 3.5, "color": "#FF00FF", "filled": false, "opacity": 1}},
                          {"transform": [{"filter": "datum.snr < 0"}], "mark": {"type": "point", "filled": false, "opacity": 1, "strokeWidth": 3.5},
                            "encoding": {
                              "color": {"field": "series", "type": "nominal", "scale": {"domain": ["DPC", "RS", "SC-SIC", "MU-LP", "1-layer RS"], "range": ["#0072BD", "#D95319", "#EDB120", "#77AC30", "#FF00FF"]},
                                "legend": {"title": null, "orient": "none", "legendX": 8, "legendY": 4, "padding": 8, "strokeColor": "#262626", "fillColor": "white", "symbolSize": 400, "symbolStrokeWidth": 3.5, "symbolOpacity": 1, "symbolFillColor": "transparent", "labelOffset": 63.5, "labelFontSize": 17.5, "labelFont": "Liberation Sans", "labelColor": "#262626", "rowPadding": 1.5}},
                              "shape": {"field": "series", "type": "nominal", "scale": {"domain": ["DPC", "RS", "SC-SIC", "MU-LP", "1-layer RS"], "range": ["M-0.475,0H6.625M3.695,0A0.62,0.62 0 1,1 2.455,0A0.62,0.62 0 1,1 3.695,0", "M-0.475,0H6.625M3.075,-0.6V0.6", "M-0.475,0H6.625", "M-0.475,0H6.625", "M3.075,-0.85L3.8,0L3.075,0.85L2.35,0Z"]},
                                "legend": {"title": null, "orient": "none", "legendX": 8, "legendY": 4, "padding": 8, "strokeColor": "#262626", "fillColor": "white", "symbolSize": 400, "symbolStrokeWidth": 3.5, "symbolOpacity": 1, "symbolFillColor": "transparent", "labelOffset": 63.5, "labelFontSize": 17.5, "labelFont": "Liberation Sans", "labelColor": "#262626", "rowPadding": 1.5}},
                              "strokeDash": {"field": "series", "type": "nominal", "scale": {"domain": ["DPC", "RS", "SC-SIC", "MU-LP", "1-layer RS"], "range": [[1, 0], [1, 0], [15, 10], [14, 5, 3, 5], [1, 0]]},
                                "legend": {"title": null, "orient": "none", "legendX": 8, "legendY": 4, "padding": 8, "strokeColor": "#262626", "fillColor": "white", "symbolSize": 400, "symbolStrokeWidth": 3.5, "symbolOpacity": 1, "symbolFillColor": "transparent", "labelOffset": 63.5, "labelFontSize": 17.5, "labelFont": "Liberation Sans", "labelColor": "#262626", "rowPadding": 1.5}}
                            }}
                        ]
                      }]
                    },
                    {
                      "title": {"text": "d", "anchor": "start", "frame": "bounds", "fontSize": 36, "fontWeight": "bold", "color": "#111111", "offset": 0, "dy": 28},
                      "resolve": {"scale": {"color": "independent", "shape": "independent", "strokeDash": "independent"}},
                      "vconcat": [{
                        "width": 369, "height": 328,
                        "title": {"text": "θ₁=4π/9, θ₂=8π/9", "anchor": "middle", "frame": "group", "fontSize": 23, "fontWeight": "normal", "offset": 9, "dx": 16},
                        "data": {"name": "rates"},
                        "transform": [{"filter": "datum.figure == 32 && datum.panel == 'd'"}],
                        "encoding": {
                          "x": {"field": "snr", "type": "quantitative", "scale": {"domain": [0, 30]}, "title": "SNR (dB)"},
                          "y": {"field": "rate", "type": "quantitative", "scale": {"domain": [0, 12]}, "title": "Weighted Sum Rate (bit/s/Hz)"}
                        },
                        "layer": [
                          {"transform": [{"filter": "datum.series != '1-layer RS'"}], "mark": {"type": "line", "strokeWidth": 4},
                            "encoding": {
                              "color": {"field": "series", "type": "nominal", "scale": {"domain": ["DPC", "RS", "SC-SIC", "MU-LP", "1-layer RS"], "range": ["#0072BD", "#D95319", "#EDB120", "#77AC30", "#FF00FF"]}, "legend": null},
                              "strokeDash": {"field": "series", "type": "nominal", "scale": {"domain": ["DPC", "RS", "SC-SIC", "MU-LP", "1-layer RS"], "range": [[1, 0], [1, 0], [15, 10], [14, 5, 3, 5], [1, 0]]}, "legend": null}
                            }},
                          {"transform": [{"filter": "datum.series == 'DPC'"}], "mark": {"type": "point", "shape": "circle", "size": 130, "strokeWidth": 3, "color": "#0072BD", "filled": false, "opacity": 1}},
                          {"transform": [{"filter": "datum.series == 'RS'"}], "mark": {"type": "point", "shape": "M-1,0H1M0,-1V1", "size": 100, "strokeWidth": 3, "color": "#D95319", "filled": false, "opacity": 1}},
                          {"transform": [{"filter": "datum.series == '1-layer RS'"}], "mark": {"type": "point", "shape": "M0,-1L0.75,0L0,1L-0.75,0Z", "size": 324, "strokeWidth": 3.5, "color": "#FF00FF", "filled": false, "opacity": 1}}
                        ]
                      }]
                    }
                  ]
                }
              ]
            },
            {
              "width": 1658, "height": 70,
              "view": {"stroke": "transparent"},
              "data": {"name": "captions"},
              "transform": [{"filter": "datum.figure == 32"}],
              "encoding": {
                "x": {"field": "seg", "type": "quantitative", "scale": {"domain": [1, 2, 3, 4, 5, 6, 7, 8, 9, 10], "range": [22, 108, 596, 614, 861, 878, 1130, 1147, 1387, 1405], "nice": false, "zero": false}, "axis": null},
                "y": {"field": "line", "type": "ordinal", "scale": {"type": "point", "padding": 0.5}, "axis": null},
                "text": {"field": "label"}
              },
              "layer": [
                {"transform": [{"filter": "datum.kind != 'text'"}], "mark": {"type": "text", "align": "left", "baseline": "middle", "font": "Lato", "fontWeight": "bold", "fontSize": 24.5, "color": "#231f20"}},
                {"transform": [{"filter": "datum.kind == 'text' && datum.line == 1"}], "mark": {"type": "text", "align": "left", "baseline": "middle", "font": "Lato", "fontSize": 25.3, "color": "#231f20"}},
                {"transform": [{"filter": "datum.kind == 'text' && datum.line == 2"}], "mark": {"type": "text", "align": "left", "baseline": "middle", "font": "Lato", "fontSize": 24.5, "color": "#231f20"}}
              ]
            }
          ]
        },
        {
          "spacing": 13,
          "resolve": {"scale": {"color": "independent", "shape": "independent", "strokeDash": "independent"}},
          "vconcat": [
            {
              "spacing": 27.5,
              "resolve": {"scale": {"color": "independent", "shape": "independent", "strokeDash": "independent"}},
              "vconcat": [
                {
                  "spacing": 38,
                  "resolve": {"scale": {"color": "independent", "shape": "independent", "strokeDash": "independent"}},
                  "hconcat": [
                    {"width": 317, "height": 10, "view": {"stroke": "transparent"}, "data": {"values": []}, "mark": "text"},
                    {
                      "title": {"text": "a", "anchor": "start", "frame": "bounds", "fontSize": 36, "fontWeight": "bold", "color": "#111111", "offset": 0, "dy": 28},
                      "resolve": {"scale": {"color": "independent", "shape": "independent", "strokeDash": "independent"}},
                      "vconcat": [{
                        "width": 369, "height": 332,
                        "title": {"text": "θ₁=π/9, θ₂=2π/9", "anchor": "middle", "frame": "group", "fontSize": 23, "fontWeight": "normal", "offset": 9, "dx": 16},
                        "data": {"name": "rates"},
                        "transform": [{"filter": "datum.figure == 33 && datum.panel == 'a'"}],
                        "encoding": {
                          "x": {"field": "snr", "type": "quantitative", "scale": {"domain": [0, 30]}, "title": "SNR (dB)"},
                          "y": {"field": "rate", "type": "quantitative", "scale": {"domain": [0, 8]}, "title": "Weighted Sum Rate (bit/s/Hz)"}
                        },
                        "layer": [
                          {"transform": [{"filter": "datum.series != '1-layer RS'"}], "mark": {"type": "line", "strokeWidth": 4},
                            "encoding": {
                              "color": {"field": "series", "type": "nominal", "scale": {"domain": ["DPC", "RS", "SC-SIC", "MU-LP", "1-layer RS"], "range": ["#0072BD", "#D95319", "#EDB120", "#77AC30", "#FF00FF"]}, "legend": null},
                              "strokeDash": {"field": "series", "type": "nominal", "scale": {"domain": ["DPC", "RS", "SC-SIC", "MU-LP", "1-layer RS"], "range": [[1, 0], [1, 0], [15, 10], [14, 5, 3, 5], [1, 0]]}, "legend": null}
                            }},
                          {"transform": [{"filter": "datum.series == 'DPC'"}], "mark": {"type": "point", "shape": "circle", "size": 130, "strokeWidth": 3, "color": "#0072BD", "filled": false, "opacity": 1}},
                          {"transform": [{"filter": "datum.series == 'RS'"}], "mark": {"type": "point", "shape": "M-1,0H1M0,-1V1", "size": 100, "strokeWidth": 3, "color": "#D95319", "filled": false, "opacity": 1}},
                          {"transform": [{"filter": "datum.series == '1-layer RS'"}], "mark": {"type": "point", "shape": "M0,-1L0.75,0L0,1L-0.75,0Z", "size": 324, "strokeWidth": 3.5, "color": "#FF00FF", "filled": false, "opacity": 1}}
                        ]
                      }]
                    },
                    {
                      "title": {"text": "b", "anchor": "start", "frame": "bounds", "fontSize": 36, "fontWeight": "bold", "color": "#111111", "offset": 0, "dy": 28},
                      "resolve": {"scale": {"color": "independent", "shape": "independent", "strokeDash": "independent"}},
                      "vconcat": [{
                        "width": 369, "height": 332,
                        "title": {"text": "θ₁=2π/9, θ₂=4π/9", "anchor": "middle", "frame": "group", "fontSize": 23, "fontWeight": "normal", "offset": 9, "dx": 16},
                        "data": {"name": "rates"},
                        "transform": [{"filter": "datum.figure == 33 && datum.panel == 'b'"}],
                        "encoding": {
                          "x": {"field": "snr", "type": "quantitative", "scale": {"domain": [0, 30]}, "title": "SNR (dB)"},
                          "y": {"field": "rate", "type": "quantitative", "scale": {"domain": [0, 10]}, "title": "Weighted Sum Rate (bit/s/Hz)"}
                        },
                        "layer": [
                          {"transform": [{"filter": "datum.series != '1-layer RS'"}], "mark": {"type": "line", "strokeWidth": 4},
                            "encoding": {
                              "color": {"field": "series", "type": "nominal", "scale": {"domain": ["DPC", "RS", "SC-SIC", "MU-LP", "1-layer RS"], "range": ["#0072BD", "#D95319", "#EDB120", "#77AC30", "#FF00FF"]}, "legend": null},
                              "strokeDash": {"field": "series", "type": "nominal", "scale": {"domain": ["DPC", "RS", "SC-SIC", "MU-LP", "1-layer RS"], "range": [[1, 0], [1, 0], [15, 10], [14, 5, 3, 5], [1, 0]]}, "legend": null}
                            }},
                          {"transform": [{"filter": "datum.series == 'DPC'"}], "mark": {"type": "point", "shape": "circle", "size": 130, "strokeWidth": 3, "color": "#0072BD", "filled": false, "opacity": 1}},
                          {"transform": [{"filter": "datum.series == 'RS'"}], "mark": {"type": "point", "shape": "M-1,0H1M0,-1V1", "size": 100, "strokeWidth": 3, "color": "#D95319", "filled": false, "opacity": 1}},
                          {"transform": [{"filter": "datum.series == '1-layer RS'"}], "mark": {"type": "point", "shape": "M0,-1L0.75,0L0,1L-0.75,0Z", "size": 324, "strokeWidth": 3.5, "color": "#FF00FF", "filled": false, "opacity": 1}}
                        ]
                      }]
                    }
                  ]
                },
                {
                  "spacing": 38,
                  "resolve": {"scale": {"color": "independent", "shape": "independent", "strokeDash": "independent"}},
                  "hconcat": [
                    {"width": 317, "height": 10, "view": {"stroke": "transparent"}, "data": {"values": []}, "mark": "text"},
                    {
                      "title": {"text": "c", "anchor": "start", "frame": "bounds", "fontSize": 36, "fontWeight": "bold", "color": "#111111", "offset": 0, "dy": 28},
                      "resolve": {"scale": {"color": "independent", "shape": "independent", "strokeDash": "independent"}},
                      "vconcat": [{
                        "width": 369, "height": 332,
                        "title": {"text": "θ₁=π/3, θ₂=2π/3", "anchor": "middle", "frame": "group", "fontSize": 23, "fontWeight": "normal", "offset": 9, "dx": 16},
                        "data": {"name": "rates"},
                        "transform": [{"filter": "datum.figure == 33 && datum.panel == 'c'"}],
                        "encoding": {
                          "x": {"field": "snr", "type": "quantitative", "scale": {"domain": [0, 30]}, "title": "SNR (dB)"},
                          "y": {"field": "rate", "type": "quantitative", "scale": {"domain": [0, 12]}, "title": "Weighted Sum Rate (bit/s/Hz)"}
                        },
                        "layer": [
                          {"transform": [{"filter": "datum.series != '1-layer RS'"}], "mark": {"type": "line", "strokeWidth": 4},
                            "encoding": {
                              "color": {"field": "series", "type": "nominal", "scale": {"domain": ["DPC", "RS", "SC-SIC", "MU-LP", "1-layer RS"], "range": ["#0072BD", "#D95319", "#EDB120", "#77AC30", "#FF00FF"]},
                                "legend": {"title": null, "orient": "none", "legendX": 7, "legendY": 2, "padding": 8, "strokeColor": "#262626", "fillColor": "white", "symbolSize": 400, "symbolStrokeWidth": 3.5, "symbolOpacity": 1, "symbolFillColor": "transparent", "labelOffset": 63.5, "labelFontSize": 17.5, "labelFont": "Liberation Sans", "labelColor": "#262626", "rowPadding": 1.5}},
                              "strokeDash": {"field": "series", "type": "nominal", "scale": {"domain": ["DPC", "RS", "SC-SIC", "MU-LP", "1-layer RS"], "range": [[1, 0], [1, 0], [15, 10], [14, 5, 3, 5], [1, 0]]},
                                "legend": {"title": null, "orient": "none", "legendX": 7, "legendY": 2, "padding": 8, "strokeColor": "#262626", "fillColor": "white", "symbolSize": 400, "symbolStrokeWidth": 3.5, "symbolOpacity": 1, "symbolFillColor": "transparent", "labelOffset": 63.5, "labelFontSize": 17.5, "labelFont": "Liberation Sans", "labelColor": "#262626", "rowPadding": 1.5}}
                            }},
                          {"transform": [{"filter": "datum.series == 'DPC'"}], "mark": {"type": "point", "shape": "circle", "size": 130, "strokeWidth": 3, "color": "#0072BD", "filled": false, "opacity": 1}},
                          {"transform": [{"filter": "datum.series == 'RS'"}], "mark": {"type": "point", "shape": "M-1,0H1M0,-1V1", "size": 100, "strokeWidth": 3, "color": "#D95319", "filled": false, "opacity": 1}},
                          {"transform": [{"filter": "datum.series == '1-layer RS'"}], "mark": {"type": "point", "shape": "M0,-1L0.75,0L0,1L-0.75,0Z", "size": 324, "strokeWidth": 3.5, "color": "#FF00FF", "filled": false, "opacity": 1}},
                          {"transform": [{"filter": "datum.snr < 0"}], "mark": {"type": "point", "filled": false, "opacity": 1, "strokeWidth": 3.5},
                            "encoding": {
                              "color": {"field": "series", "type": "nominal", "scale": {"domain": ["DPC", "RS", "SC-SIC", "MU-LP", "1-layer RS"], "range": ["#0072BD", "#D95319", "#EDB120", "#77AC30", "#FF00FF"]},
                                "legend": {"title": null, "orient": "none", "legendX": 7, "legendY": 2, "padding": 8, "strokeColor": "#262626", "fillColor": "white", "symbolSize": 400, "symbolStrokeWidth": 3.5, "symbolOpacity": 1, "symbolFillColor": "transparent", "labelOffset": 63.5, "labelFontSize": 17.5, "labelFont": "Liberation Sans", "labelColor": "#262626", "rowPadding": 1.5}},
                              "shape": {"field": "series", "type": "nominal", "scale": {"domain": ["DPC", "RS", "SC-SIC", "MU-LP", "1-layer RS"], "range": ["M-0.475,0H6.625M3.695,0A0.62,0.62 0 1,1 2.455,0A0.62,0.62 0 1,1 3.695,0", "M-0.475,0H6.625M3.075,-0.6V0.6", "M-0.475,0H6.625", "M-0.475,0H6.625", "M3.075,-0.85L3.8,0L3.075,0.85L2.35,0Z"]},
                                "legend": {"title": null, "orient": "none", "legendX": 7, "legendY": 2, "padding": 8, "strokeColor": "#262626", "fillColor": "white", "symbolSize": 400, "symbolStrokeWidth": 3.5, "symbolOpacity": 1, "symbolFillColor": "transparent", "labelOffset": 63.5, "labelFontSize": 17.5, "labelFont": "Liberation Sans", "labelColor": "#262626", "rowPadding": 1.5}},
                              "strokeDash": {"field": "series", "type": "nominal", "scale": {"domain": ["DPC", "RS", "SC-SIC", "MU-LP", "1-layer RS"], "range": [[1, 0], [1, 0], [15, 10], [14, 5, 3, 5], [1, 0]]},
                                "legend": {"title": null, "orient": "none", "legendX": 7, "legendY": 2, "padding": 8, "strokeColor": "#262626", "fillColor": "white", "symbolSize": 400, "symbolStrokeWidth": 3.5, "symbolOpacity": 1, "symbolFillColor": "transparent", "labelOffset": 63.5, "labelFontSize": 17.5, "labelFont": "Liberation Sans", "labelColor": "#262626", "rowPadding": 1.5}}
                            }}
                        ]
                      }]
                    },
                    {
                      "title": {"text": "d", "anchor": "start", "frame": "bounds", "fontSize": 36, "fontWeight": "bold", "color": "#111111", "offset": 0, "dy": 28},
                      "resolve": {"scale": {"color": "independent", "shape": "independent", "strokeDash": "independent"}},
                      "vconcat": [{
                        "width": 369, "height": 332,
                        "title": {"text": "θ₁=4π/9, θ₂=8π/9", "anchor": "middle", "frame": "group", "fontSize": 23, "fontWeight": "normal", "offset": 9, "dx": 16},
                        "data": {"name": "rates"},
                        "transform": [{"filter": "datum.figure == 33 && datum.panel == 'd'"}],
                        "encoding": {
                          "x": {"field": "snr", "type": "quantitative", "scale": {"domain": [0, 30]}, "title": "SNR (dB)"},
                          "y": {"field": "rate", "type": "quantitative", "scale": {"domain": [0, 12]}, "title": "Weighted Sum Rate (bit/s/Hz)"}
                        },
                        "layer": [
                          {"transform": [{"filter": "datum.series != '1-layer RS'"}], "mark": {"type": "line", "strokeWidth": 4},
                            "encoding": {
                              "color": {"field": "series", "type": "nominal", "scale": {"domain": ["DPC", "RS", "SC-SIC", "MU-LP", "1-layer RS"], "range": ["#0072BD", "#D95319", "#EDB120", "#77AC30", "#FF00FF"]}, "legend": null},
                              "strokeDash": {"field": "series", "type": "nominal", "scale": {"domain": ["DPC", "RS", "SC-SIC", "MU-LP", "1-layer RS"], "range": [[1, 0], [1, 0], [15, 10], [14, 5, 3, 5], [1, 0]]}, "legend": null}
                            }},
                          {"transform": [{"filter": "datum.series == 'DPC'"}], "mark": {"type": "point", "shape": "circle", "size": 130, "strokeWidth": 3, "color": "#0072BD", "filled": false, "opacity": 1}},
                          {"transform": [{"filter": "datum.series == 'RS'"}], "mark": {"type": "point", "shape": "M-1,0H1M0,-1V1", "size": 100, "strokeWidth": 3, "color": "#D95319", "filled": false, "opacity": 1}},
                          {"transform": [{"filter": "datum.series == '1-layer RS'"}], "mark": {"type": "point", "shape": "M0,-1L0.75,0L0,1L-0.75,0Z", "size": 324, "strokeWidth": 3.5, "color": "#FF00FF", "filled": false, "opacity": 1}}
                        ]
                      }]
                    }
                  ]
                }
              ]
            },
            {
              "width": 1658, "height": 70,
              "view": {"stroke": "transparent"},
              "data": {"name": "captions"},
              "transform": [{"filter": "datum.figure == 33"}],
              "encoding": {
                "x": {"field": "seg", "type": "quantitative", "scale": {"domain": [1, 2, 3, 4, 5, 6, 7, 8, 9, 10], "range": [22, 108, 596, 614, 861, 878, 1130, 1147, 1387, 1405], "nice": false, "zero": false}, "axis": null},
                "y": {"field": "line", "type": "ordinal", "scale": {"type": "point", "padding": 0.5}, "axis": null},
                "text": {"field": "label"}
              },
              "layer": [
                {"transform": [{"filter": "datum.kind != 'text'"}], "mark": {"type": "text", "align": "left", "baseline": "middle", "font": "Lato", "fontWeight": "bold", "fontSize": 24.5, "color": "#231f20"}},
                {"transform": [{"filter": "datum.kind == 'text' && datum.line == 1"}], "mark": {"type": "text", "align": "left", "baseline": "middle", "font": "Lato", "fontSize": 25.3, "color": "#231f20"}},
                {"transform": [{"filter": "datum.kind == 'text' && datum.line == 2"}], "mark": {"type": "text", "align": "left", "baseline": "middle", "font": "Lato", "fontSize": 24.5, "color": "#231f20"}}
              ]
            }
          ]
        }
      ]
    }
  ]
}
